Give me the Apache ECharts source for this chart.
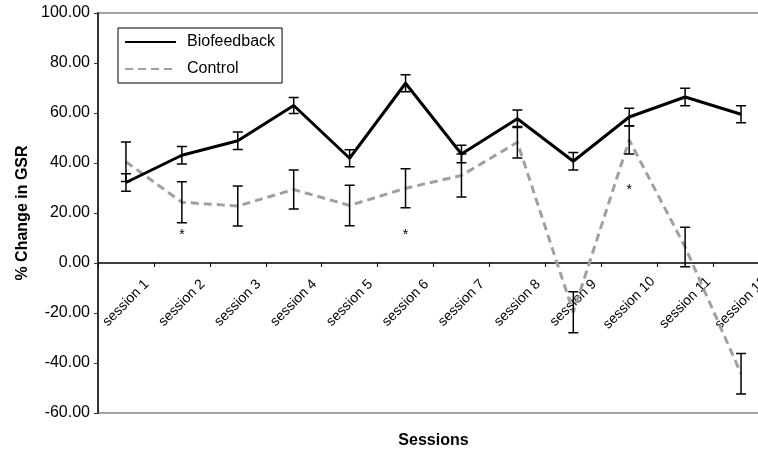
<!DOCTYPE html>
<html>
<head>
<meta charset="utf-8">
<script src="https://cdn.jsdelivr.net/npm/echarts@6/dist/echarts.min.js"></script>
<style>
html,body{margin:0;padding:0;background:#fff;}
#chart{width:758px;height:454px;}
</style>
</head>
<body>
<div id="chart"></div>
<script>
var categories = ['session 1','session 2','session 3','session 4','session 5','session 6','session 7','session 8','session 9','session 10','session 11','session 12'];
var bioMean = [32.2, 43.1, 48.9, 63.0, 41.9, 71.9, 43.6, 57.7, 40.7, 58.4, 66.4, 59.5];
var bioErr  = [3.5, 3.5, 3.5, 3.2, 3.4, 3.4, 3.5, 3.5, 3.5, 3.5, 3.5, 3.4];
var ctrlMean = [40.5, 24.3, 22.8, 29.4, 23.0, 29.9, 35.0, 48.3, -19.7, 49.2, 6.4, -44.3];
var ctrlErr  = [7.9, 8.2, 8.0, 7.8, 8.1, 7.8, 8.6, 6.3, 8.2, 5.6, 7.9, 8.1];
var sigIndex = [1, 5, 9];
var sigValue = [11.2, 11.3, 29.2];
var yTicks = {min: -60, max: 100, interval: 20};

var errData = [];
for (var i = 0; i < categories.length; i++) {
  errData.push([i, bioMean[i] - bioErr[i], bioMean[i] + bioErr[i]]);
  errData.push([i, ctrlMean[i] - ctrlErr[i], ctrlMean[i] + ctrlErr[i]]);
}
var sigData = sigIndex.map(function (k, j) { return [k, sigValue[j]]; });

var chart = echarts.init(document.getElementById('chart'));
var font = 'Liberation Sans, Arial, sans-serif';
chart.setOption({
  animation: false,
  backgroundColor: '#fff',
  textStyle: {fontFamily: font},
  legend: {
    orient: 'vertical',
    left: 118,
    top: 28,
    data: ['Biofeedback', 'Control'],
    backgroundColor: '#fff',
    borderColor: '#000',
    borderWidth: 1,
    padding: [5, 7, 5, 6],
    itemWidth: 51,
    itemHeight: 14,
    itemGap: 9,
    itemStyle: {opacity: 0},
    textStyle: {fontSize: 16, color: '#000', fontFamily: font, lineHeight: 18, padding: [0, 0, 0, 6]}
  },
  grid: {
    left: 98, top: 13, right: -11, bottom: 41,
    outerBoundsMode: 'none',
    containLabel: false,
    show: true, borderColor: '#888', borderWidth: 1.5, backgroundColor: 'transparent'
  },
  xAxis: {
    type: 'category',
    data: categories,
    boundaryGap: true,
    name: 'Sessions',
    nameLocation: 'middle',
    nameGap: 20,
    nameTextStyle: {fontSize: 16, fontWeight: 'bold', color: '#000', fontFamily: font},
    axisLine: {onZero: true, lineStyle: {color: '#000', width: 1.5}},
    axisTick: {show: true, length: 4, lineStyle: {color: '#000', width: 1}},
    axisLabel: {
      interval: 0, rotate: 45, fontSize: 14, color: '#000', fontFamily: font,
      align: 'center', verticalAlign: 'middle', margin: -110
    },
    splitLine: {show: false}
  },
  yAxis: {
    type: 'value',
    min: yTicks.min, max: yTicks.max, interval: yTicks.interval,
    name: '% Change in GSR',
    nameLocation: 'middle',
    nameGap: 60,
    nameTextStyle: {fontSize: 16, fontWeight: 'bold', color: '#000', fontFamily: font},
    axisLine: {show: true, lineStyle: {color: '#333', width: 2}},
    axisTick: {show: true, length: 4, lineStyle: {color: '#333', width: 1}},
    axisLabel: {fontSize: 16, color: '#000', margin: 8, fontFamily: font,
      formatter: function (v) { return v.toFixed(2); }},
    splitLine: {show: false}
  },
  series: [
    {
      name: 'Control', type: 'line', data: ctrlMean,
      symbol: 'none', z: 2,
      lineStyle: {color: '#a0a0a0', width: 3, type: [8, 5]},
      itemStyle: {color: '#a0a0a0'}
    },
    {
      name: 'Biofeedback', type: 'line', data: bioMean,
      symbol: 'none', z: 3,
      lineStyle: {color: '#000', width: 3},
      itemStyle: {color: '#000'}
    },
    {
      name: 'err', type: 'custom', data: errData, z: 4,
      encode: {x: 0, y: [1, 2]},
      renderItem: function (params, api) {
        var lo = api.coord([api.value(0), api.value(1)]);
        var hi = api.coord([api.value(0), api.value(2)]);
        var w = 5;
        var st = {stroke: '#000', lineWidth: 1.5};
        return {
          type: 'group',
          children: [
            {type: 'line', shape: {x1: lo[0], y1: lo[1], x2: hi[0], y2: hi[1]}, style: st},
            {type: 'line', shape: {x1: lo[0] - w, y1: lo[1], x2: lo[0] + w, y2: lo[1]}, style: st},
            {type: 'line', shape: {x1: hi[0] - w, y1: hi[1], x2: hi[0] + w, y2: hi[1]}, style: st}
          ]
        };
      }
    },
    {
      name: 'sig', type: 'scatter', data: sigData, z: 5,
      symbol: 'circle', symbolSize: 2, itemStyle: {color: 'rgba(0,0,0,0)'},
      label: {show: true, position: 'inside', formatter: '*', fontSize: 14, color: '#000', opacity: 1, fontFamily: font}
    }
  ]
});
</script>
</body>
</html>
